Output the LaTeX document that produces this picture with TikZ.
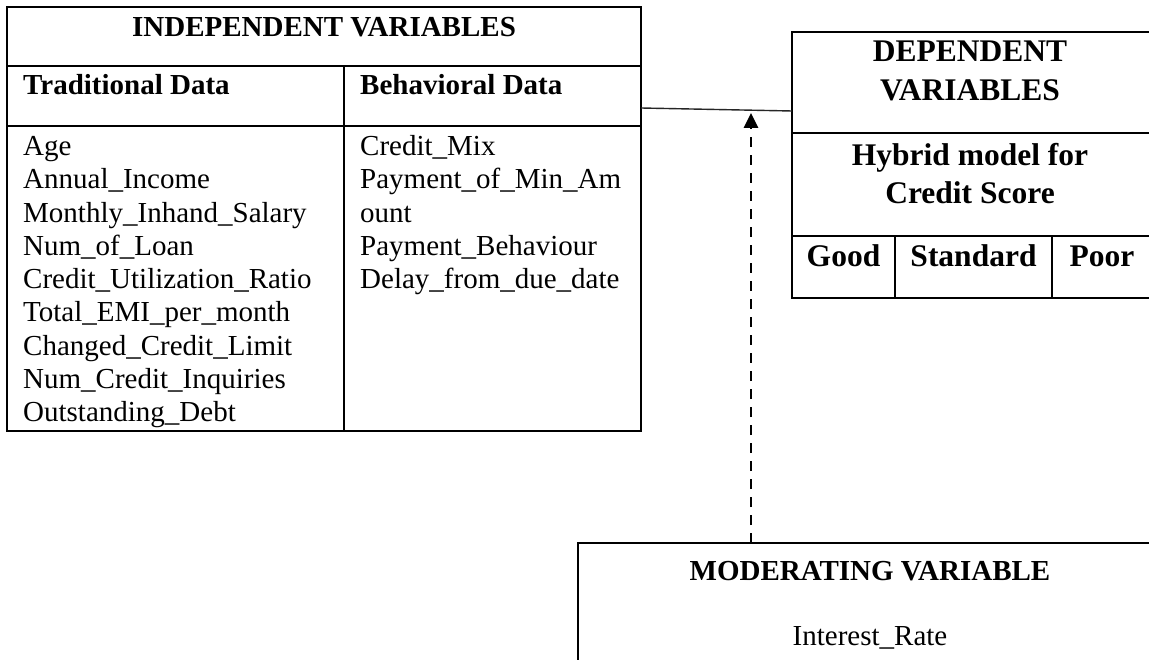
\documentclass[tikz,border=0pt]{standalone}
\usepackage{fontspec}
\setmainfont{Liberation Serif}
\usetikzlibrary{arrows.meta,calc}

\tikzset{
  frame/.style={draw, line width=2.3pt, inner sep=0pt, outer sep=0pt, anchor=north west},
  rule/.style={line width=2.3pt},
  txt/.style={inner sep=0pt, font=\fontsize{29}{33}\selectfont},
  btxt/.style={inner sep=0pt, font=\fontsize{29}{33}\selectfont\bfseries},
  bigb/.style={inner sep=0pt, font=\fontsize{31.5}{37}\selectfont\bfseries},
  link/.style={line width=1.4pt, draw=black!85},
  modarrow/.style={line width=2.7pt, dash pattern=on 10pt off 8pt,
    -{Triangle[length=15pt,width=14pt]}},
}

\begin{document}
\begin{tikzpicture}[x=1pt,y=-1pt]
\path[use as bounding box, clip] (0,0) rectangle (1149,660);
\fill[white] (0,0) rectangle (1149,660);

% ---------- independent variables ----------
\node[frame, minimum width=634pt, minimum height=424pt] (indep) at (7,7) {};
\draw[rule] (7,66) -- (641,66);
\draw[rule] (7,126) -- (641,126);
\draw[rule] (344,66) -- (344,431);

\node[btxt, anchor=base] (indeptitle) at (324,37) {INDEPENDENT VARIABLES};
\node[btxt, anchor=base west] (tradhead) at (23,95) {Traditional Data};
\node[btxt, anchor=base west] (behhead) at (360,95) {Behavioral Data};

\foreach \t [count=\i from 0] in {Age, Annual\_Income, Monthly\_Inhand\_Salary,
    Num\_of\_Loan, Credit\_Utilization\_Ratio, Total\_EMI\_per\_month,
    Changed\_Credit\_Limit, Num\_Credit\_Inquiries, Outstanding\_Debt}
  \node[txt, anchor=base west] (trad\i) at (23,155.5+33.3*\i) {\t};

\foreach \t [count=\i from 0] in {Credit\_Mix, Payment\_of\_Min\_Am, ount,
    Payment\_Behaviour, Delay\_from\_due\_date}
  \node[txt, anchor=base west] (beh\i) at (360,155.5+33.3*\i) {\t};

% ---------- dependent variables ----------
\node[frame, minimum width=360pt, minimum height=266pt] (dep) at (792,32) {};
\draw[rule] (792,133) -- (1152,133);
\draw[rule] (792,236) -- (1152,236);
\draw[rule] (895,236) -- (895,298);
\draw[rule] (1052,236) -- (1052,298);

\node[bigb, anchor=base] (deptitle1) at (970,61.7) {DEPENDENT};
\node[bigb, anchor=base] (deptitle2) at (970,100.7) {VARIABLES};
\node[bigb, anchor=base] (model1) at (970,165.7) {Hybrid model for};
\node[bigb, anchor=base] (model2) at (970,203.5) {Credit Score};
\node[bigb, anchor=base] (good) at (843.5,266.7) {Good};
\node[bigb, anchor=base] (standard) at (973.5,266.7) {Standard};
\node[bigb, anchor=base] (poor) at (1102,266.7) {Poor};

% ---------- moderating variable ----------
\node[frame, minimum width=584pt, minimum height=140pt] (mod) at (578,543) {};
\node[btxt, anchor=base] (modtitle) at (870,580.7) {MODERATING VARIABLE};
\node[txt, anchor=base] (rate) at (870,645.7) {Interest\_Rate};

% ---------- connectors ----------
\draw[link] ([yshift=-101pt]indep.north east) -- ([yshift=-79pt]dep.north west);
\coordinate (modtip) at (751,113);
\draw[modarrow] ([xshift=173pt]mod.north west) -- (modtip);
\end{tikzpicture}
\end{document}
